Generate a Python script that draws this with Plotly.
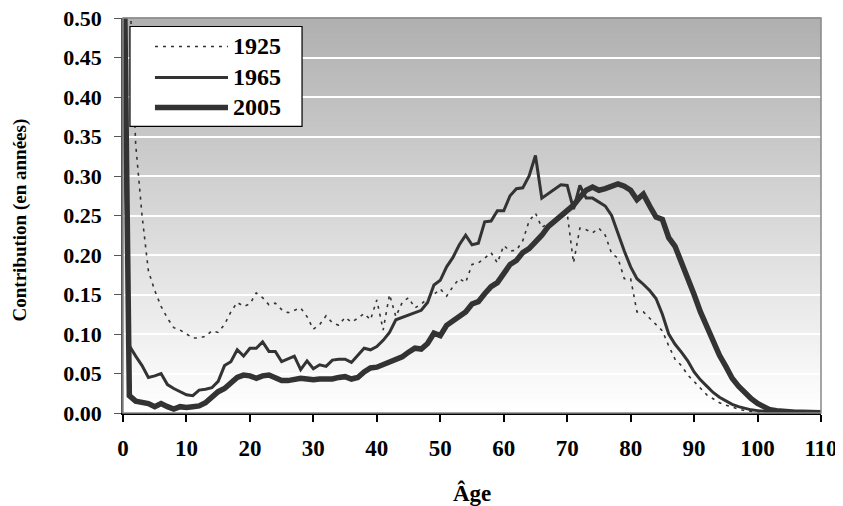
import plotly.graph_objects as go

ages = list(range(0, 111))

y1925 = [1.60, 0.55, 0.34, 0.25, 0.18, 0.155, 0.135, 0.12, 0.108, 0.105,
         0.100, 0.095, 0.095, 0.097, 0.104, 0.102, 0.112, 0.128, 0.140, 0.135,
         0.138, 0.152, 0.146, 0.137, 0.139, 0.131, 0.127, 0.130, 0.133, 0.122,
         0.106, 0.112, 0.123, 0.114, 0.111, 0.121, 0.115, 0.120, 0.126, 0.118,
         0.143, 0.105, 0.150, 0.122, 0.140, 0.146, 0.133, 0.138, 0.145, 0.150,
         0.157, 0.148, 0.160, 0.170, 0.165, 0.188, 0.190, 0.196, 0.203, 0.190,
         0.212, 0.205, 0.206, 0.218, 0.243, 0.253, 0.235, 0.240, 0.242, 0.247,
         0.253, 0.190, 0.234, 0.232, 0.228, 0.234, 0.225, 0.202, 0.196, 0.170,
         0.170, 0.128, 0.128, 0.120, 0.112, 0.104, 0.085, 0.068, 0.060, 0.048,
         0.040, 0.031, 0.023, 0.018, 0.013, 0.010, 0.007, 0.005, 0.003, 0.002,
         0.001, 0.0005, 0.0003, 0.0002, 0.0001, 0.0, 0.0, 0.0, 0.0, 0.0, 0.0]

y1965 = [0.46, 0.085, 0.072, 0.060, 0.045, 0.047, 0.050, 0.036, 0.031, 0.027,
         0.023, 0.022, 0.029, 0.030, 0.032, 0.040, 0.060, 0.065, 0.080, 0.072,
         0.082, 0.082, 0.090, 0.078, 0.078, 0.065, 0.068, 0.072, 0.055, 0.066,
         0.056, 0.061, 0.059, 0.067, 0.068, 0.068, 0.064, 0.073, 0.082, 0.080,
         0.084, 0.092, 0.102, 0.118, 0.121, 0.123, 0.126, 0.130, 0.140, 0.162,
         0.168, 0.185, 0.197, 0.213, 0.225, 0.213, 0.215, 0.242, 0.243, 0.256,
         0.256, 0.275, 0.284, 0.285, 0.300, 0.326, 0.272, 0.278, 0.284, 0.289,
         0.288, 0.258, 0.288, 0.272, 0.272, 0.267, 0.262, 0.250, 0.226, 0.205,
         0.185, 0.170, 0.163, 0.155, 0.145, 0.125, 0.100, 0.087, 0.077, 0.066,
         0.052, 0.042, 0.034, 0.026, 0.020, 0.015, 0.011, 0.008, 0.006, 0.004,
         0.003, 0.002, 0.001, 0.0005, 0.0003, 0.0002, 0.0001, 0.0, 0.0, 0.0, 0.0]

y2005 = [0.70, 0.022, 0.015, 0.014, 0.012, 0.008, 0.012, 0.008, 0.005, 0.008,
         0.007, 0.008, 0.009, 0.013, 0.020, 0.027, 0.031, 0.038, 0.045, 0.048,
         0.047, 0.044, 0.047, 0.048, 0.045, 0.041, 0.041, 0.043, 0.044, 0.043,
         0.042, 0.043, 0.043, 0.043, 0.045, 0.046, 0.043, 0.045, 0.052, 0.057,
         0.058, 0.061, 0.064, 0.067, 0.071, 0.077, 0.082, 0.081, 0.088, 0.101,
         0.098, 0.111, 0.116, 0.122, 0.128, 0.138, 0.141, 0.151, 0.160, 0.165,
         0.178, 0.188, 0.193, 0.203, 0.208, 0.216, 0.225, 0.236, 0.243, 0.250,
         0.258, 0.263, 0.273, 0.282, 0.286, 0.282, 0.284, 0.287, 0.290, 0.287,
         0.282, 0.270, 0.277, 0.262, 0.248, 0.245, 0.222, 0.211, 0.192, 0.170,
         0.150, 0.128, 0.110, 0.088, 0.073, 0.059, 0.044, 0.034, 0.025, 0.018,
         0.012, 0.008, 0.004, 0.003, 0.002, 0.001, 0.001, 0.0008, 0.0005, 0.0003, 0.0002]

series_names = ["1925", "1965", "2005"]
series_values = [y1925, y1965, y2005]
x_ticks = list(range(0, 111, 10))
y_ticks = [round(i * 0.05, 2) for i in range(11)]
y_tick_labels = ["%.2f" % v for v in y_ticks]

LINE = "#333333"
styles = {
    "1925": dict(color=LINE, width=1.6, dash="3px,5px"),
    "1965": dict(color=LINE, width=3),
    "2005": dict(color=LINE, width=5.5),
}
FONT = "Liberation Serif"

fig = go.Figure()
for name, vals in zip(series_names, series_values):
    fig.add_trace(go.Scatter(x=ages, y=vals, mode="lines", name=name,
                             line=styles[name], showlegend=False,
                             hoverinfo="skip"))

shapes = []
# vertical gradient background (gray at top -> white at bottom)
n = 80
for i in range(n):
    t = i / n
    c = int(round(255 - (255 - 176) * (t + 0.5 / n)))
    shapes.append(dict(type="rect", xref="paper", yref="paper",
                       x0=0, x1=1, y0=t, y1=(i + 1) / n + 0.002,
                       fillcolor="rgb(%d,%d,%d)" % (c, c, c),
                       line=dict(width=0), layer="below"))
# plot-area border (top/right gray)
shapes.append(dict(type="rect", xref="paper", yref="paper", x0=0, x1=1, y0=0, y1=1,
                   line=dict(color="#888888", width=1.5), layer="above"))

# manual legend
lx0, lx1, ly0, ly1 = 0.010, 0.2565, 0.7257, 0.9785
shapes.append(dict(type="rect", xref="paper", yref="paper", x0=lx0, x1=lx1, y0=ly0, y1=ly1,
                   fillcolor="white", line=dict(color="black", width=1.2), layer="above"))
rows = [0.928, 0.8496, 0.7737]
annotations = []
for name, yy in zip(series_names, rows):
    st = styles[name]
    shapes.append(dict(type="line", xref="paper", yref="paper", x0=0.0458, x1=0.1504,
                       y0=yy, y1=yy, layer="above",
                       line=dict(color=st["color"], width=st["width"], dash=st.get("dash", "solid"))))
    annotations.append(dict(xref="paper", yref="paper", x=0.1550, y=yy, text=name,
                            showarrow=False, xanchor="left", yanchor="middle",
                            font=dict(family=FONT, size=24, color="black", weight="bold")))

annotations.append(dict(xref="paper", yref="paper", x=(20 - 123) / 698, y=0.49,
                        text="Contribution (en années)", textangle=-90, showarrow=False,
                        xanchor="center", yanchor="middle",
                        font=dict(family=FONT, size=19, color="black", weight="bold")))
annotations.append(dict(xref="paper", yref="paper", x=0.5, y=(413 - 493) / 395.5,
                        text="Âge", showarrow=False, xanchor="center", yanchor="middle",
                        font=dict(family=FONT, size=23, color="black", weight="bold")))

# the page body adds an 8px offset; margins compensate so the plot lands where the reference has it
fig.update_layout(
    width=843, height=506,
    margin=dict(l=115, r=30, t=10, b=101, autoexpand=False),
    paper_bgcolor="white", plot_bgcolor="white",
    shapes=shapes, annotations=annotations, showlegend=False,
    xaxis=dict(range=[0, 110], tickvals=x_ticks, ticktext=[str(v) for v in x_ticks],
               showgrid=False, zeroline=False, showline=True, linecolor="black", linewidth=2,
               ticks="outside", ticklen=7, tickwidth=2, tickcolor="black",
               ticklabelstandoff=6, ticklabeloverflow="allow",
               tickfont=dict(family=FONT, size=23, color="black", weight="bold")),
    yaxis=dict(range=[0, 0.5], tickvals=y_ticks, ticktext=y_tick_labels,
               showgrid=True, gridcolor="white", gridwidth=2, zeroline=False,
               showline=True, linecolor="#555555", linewidth=1.5,
               ticks="outside", ticklen=7, tickwidth=1, tickcolor="#555555",
               ticklabelstandoff=8, ticklabeloverflow="allow",
               tickfont=dict(family=FONT, size=22, color="black", weight="bold")),
)

fig.write_html("out.html")
